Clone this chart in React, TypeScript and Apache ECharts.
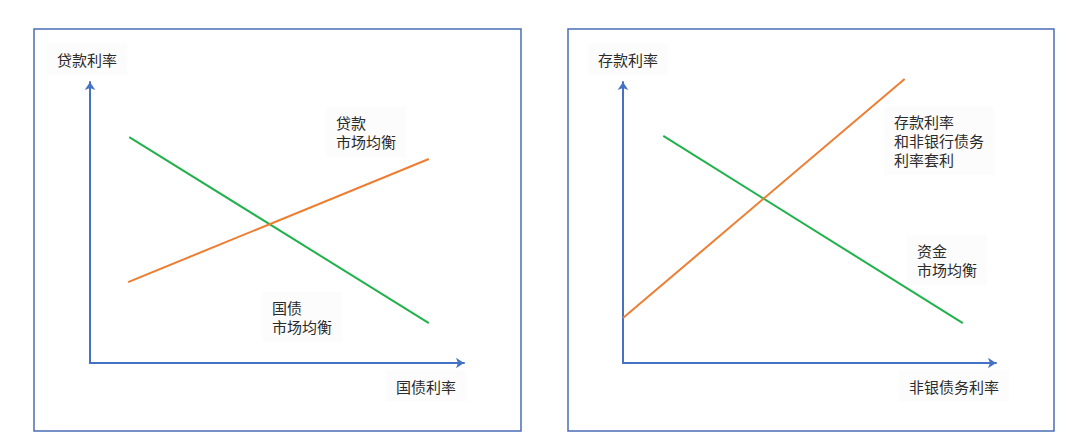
import React, { useEffect, useRef } from 'react';
import * as echarts from 'echarts';

// left panel: loan rate vs treasury rate
const bondMarketLine = [[10.5, 80.4], [90.6, 14.2]]; // green
const loanMarketLine = [[10.2, 28.8], [90.6, 72.6]]; // orange

// right panel: deposit rate vs non-bank debt rate
const fundMarketLine = [[10.8, 80.8], [91.1, 14.2]]; // green
const arbitrageLine = [[0, 16.0], [75.5, 101.1]]; // orange

const leftYName = '贷款利率';
const leftXName = '国债利率';
const rightYName = '存款利率';
const rightXName = '非银债务利率';
const loanLabel = '贷款\n市场均衡';
const bondLabel = '国债\n市场均衡';
const arbitrageLabel = '存款利率\n和非银行债务\n利率套利';
const fundLabel = '资金\n市场均衡';

const AXIS_BLUE = '#4472C4';
const GREEN = '#22b14c';
const ORANGE = '#ed7d31';
const FONT = '"Noto Sans CJK SC", "Noto Sans", sans-serif';

const App: React.FC = () => {
  const chartRef = useRef<HTMLDivElement>(null);

  useEffect(() => {
    if (!chartRef.current) return;
    const chart = echarts.init(chartRef.current, null, { renderer: 'svg' });

    const axisBase = {
      type: 'value',
      min: 0,
      max: 100,
      axisLabel: { show: false },
      axisTick: { show: false },
      splitLine: { show: false },
      axisLine: {
        show: true,
        symbol: ['none', 'arrow'],
        symbolSize: [8, 8],
        lineStyle: { color: AXIS_BLUE, width: 2 },
      },
    };

    const label = (text: string, x: number, y: number, vAlign: string) => ({
      type: 'text',
      x,
      y,
      style: {
        text,
        fill: '#2b2b2b',
        font: `15px ${FONT}`,
        lineHeight: 19,
        verticalAlign: vAlign,
        backgroundColor: '#fcfcfc',
        padding: [6, 10],
      },
    });

    const lineSeries = (data: number[][], color: string, idx: number) => ({
      type: 'line',
      data,
      xAxisIndex: idx,
      yAxisIndex: idx,
      symbol: 'none',
      clip: false,
      lineStyle: { color, width: 2 },
    });

    const options = {
      animation: false,
      grid: [
        { left: 90, top: 82, width: 374, height: 281 },
        { left: 623, top: 82, width: 373, height: 281 },
      ],
      xAxis: [
        { ...axisBase, gridIndex: 0 },
        { ...axisBase, gridIndex: 1 },
      ],
      yAxis: [
        { ...axisBase, gridIndex: 0 },
        { ...axisBase, gridIndex: 1 },
      ],
      series: [
        lineSeries(bondMarketLine, GREEN, 0),
        lineSeries(loanMarketLine, ORANGE, 0),
        lineSeries(fundMarketLine, GREEN, 1),
        lineSeries(arbitrageLine, ORANGE, 1),
      ],
      graphic: [
        {
          type: 'rect',
          shape: { x: 34, y: 29, width: 487, height: 402 },
          style: { fill: 'none', stroke: '#4a6db5', lineWidth: 1.5 },
          z: -1,
        },
        {
          type: 'rect',
          shape: { x: 568, y: 29, width: 486, height: 402 },
          style: { fill: 'none', stroke: '#4a6db5', lineWidth: 1.5 },
          z: -1,
        },
        label(leftYName, 47, 59, 'middle'),
        label(leftXName, 386, 386, 'middle'),
        label(loanLabel, 326, 107, 'top'),
        label(bondLabel, 262, 292, 'top'),
        label(rightYName, 588, 59, 'middle'),
        label(rightXName, 899, 386, 'middle'),
        label(arbitrageLabel, 884, 106, 'top'),
        label(fundLabel, 907, 235, 'top'),
      ],
    };

    chart.setOption(options);

    return () => {
      chart.dispose();
    };
  }, []);

  return (
    <div
      ref={chartRef}
      style={{ position: 'fixed', left: 0, top: 0, width: '1080px', height: '447px', background: '#fff' }}
    />
  );
};

export default App;
